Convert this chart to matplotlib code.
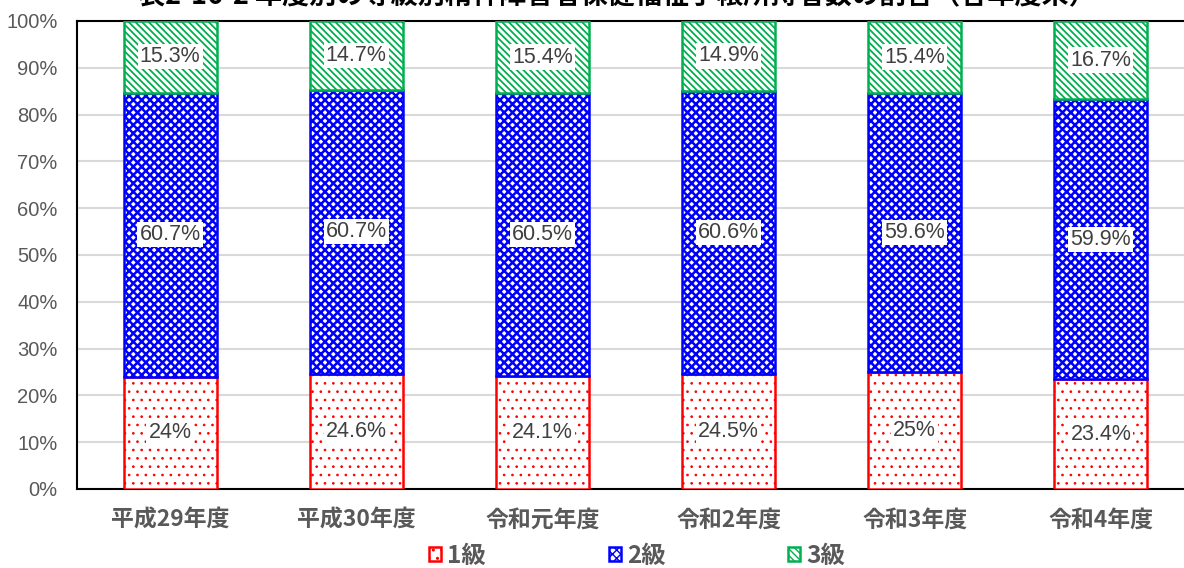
import matplotlib
matplotlib.use("Agg")
import matplotlib.pyplot as plt
import numpy as np

categories = ["平成29年度", "平成30年度", "令和元年度", "令和2年度", "令和3年度", "令和4年度"]
grade1 = [24.0, 24.6, 24.1, 24.5, 25.0, 23.4]
grade2 = [60.7, 60.7, 60.5, 60.6, 59.6, 59.9]
grade3 = [15.3, 14.7, 15.4, 14.9, 15.4, 16.7]
grade1_labels = ["24%", "24.6%", "24.1%", "24.5%", "25%", "23.4%"]
grade2_labels = ["60.7%", "60.7%", "60.5%", "60.6%", "59.6%", "59.9%"]
grade3_labels = ["15.3%", "14.7%", "15.4%", "14.9%", "15.4%", "16.7%"]
series_names = ["1級", "2級", "3級"]
yticks = [0, 10, 20, 30, 40, 50, 60, 70, 80, 90, 100]
title = "表2-16-2 年度別の等級別精神障害者保健福祉手帳所持者数の割合（各年度末）"

NUM_FONT = ['Liberation Sans', 'DejaVu Sans']
CJK_FONT = ['Noto Sans CJK JP', 'DejaVu Sans']
plt.rcParams['font.family'] = NUM_FONT

W, H = 1184, 568
fig = plt.figure(figsize=(W / 100, H / 100), dpi=100)
ax = fig.add_axes([77 / W, 1 - 489 / H, 1 - 77 / W, (489 - 21) / H])

x = np.arange(len(categories))
width = 0.5
colors = ["#FF0000", "#0000FF", "#00B050"]
hatches = ["..", "xxxx", "\\\\\\\\\\"]
hatch_lws = [0.7, 1.8, 1.3]
data = [grade1, grade2, grade3]
labels = [grade1_labels, grade2_labels, grade3_labels]

bottom = np.zeros(len(categories))
handles = []
for vals, labs, col, hat, hlw, name in zip(data, labels, colors, hatches, hatch_lws, series_names):
    vals = np.array(vals)
    with plt.rc_context({'hatch.linewidth': hlw}):
        b = ax.bar(x, vals, width, bottom=bottom, facecolor="white", edgecolor=col,
                   hatch=hat, linewidth=1.8, label=name, zorder=3)
    handles.append(b)
    for xi, bi, vi, li in zip(x, bottom, vals, labs):
        ax.text(xi, bi + vi / 2, li, ha="center", va="center", fontsize=15.5,
                color="#404040", zorder=5,
                bbox=dict(facecolor="white", edgecolor="none", pad=1.5))
    bottom += vals

ax.set_ylim(0, 100)
ax.set_xlim(-0.5, 5.5 - 10 / 186.5)
ax.set_yticks(yticks)
ax.set_yticklabels([f"{v}%" for v in yticks], fontsize=14.5, color="#595959")
ax.set_xticks(x)
ax.set_xticklabels(categories, fontsize=16.5, fontweight="bold", color="#595959",
                   family=CJK_FONT)
ax.tick_params(axis="both", length=0)
ax.tick_params(axis="y", pad=14)
ax.tick_params(axis="x", pad=14)
ax.yaxis.grid(True, color="#D9D9D9", linewidth=1.5, zorder=0)
ax.set_axisbelow(True)
for s in ["left", "top", "bottom"]:
    ax.spines[s].set_color("black")
    ax.spines[s].set_linewidth(1.5)
ax.spines["right"].set_visible(False)

leg = fig.legend(handles=handles, labels=series_names, loc="center",
                 bbox_to_anchor=(637 / W, 1 - 556 / H), ncol=3, frameon=False,
                 handlelength=0.5, handleheight=0.5, handletextpad=0.25,
                 columnspacing=5.05,
                 prop={'family': CJK_FONT, 'weight': 'bold', 'size': 17.5})
for t in leg.get_texts():
    t.set_color("#595959")

fig.text(617 / W, 1 - 4 / H, title, ha="center", va="baseline", fontsize=19.5,
         fontweight="bold", color="black", family=CJK_FONT)

fig.savefig("out.png", dpi=100)
